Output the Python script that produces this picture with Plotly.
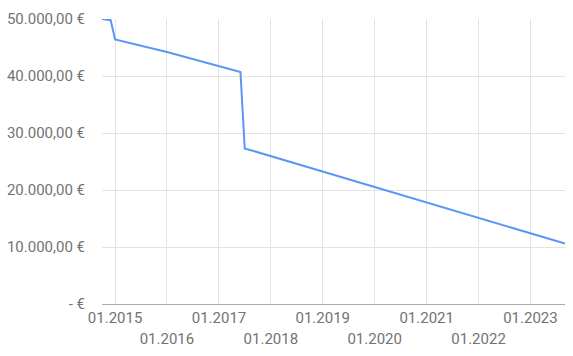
import plotly.graph_objects as go

dates = ["2014-10-01", "2014-12-01", "2015-01-01", "2016-01-01", "2017-06-01", "2017-07-01", "2023-09-01"]
values = [50000, 49800, 46400, 44200, 40700, 27300, 10600]

odd_ticks = ["2015-01-01", "2017-01-01", "2019-01-01", "2021-01-01", "2023-01-01"]
odd_labels = ["01.2015", "01.2017", "01.2019", "01.2021", "01.2023"]
even_ticks = ["2016-01-01", "2018-01-01", "2020-01-01", "2022-01-01"]
even_labels = ["01.2016", "01.2018", "01.2020", "01.2022"]
y_ticks = [0, 10000, 20000, 30000, 40000, 50000]
y_labels = ["- €", "10.000,00 €", "20.000,00 €", "30.000,00 €", "40.000,00 €", "50.000,00 €"]

fig = go.Figure(go.Scatter(x=dates, y=values, mode="lines",
                           line=dict(color="#5b95f7", width=2)))
fig.update_layout(
    width=573, height=356,
    margin=dict(l=102, r=8, t=19, b=52),
    paper_bgcolor="white", plot_bgcolor="white",
    font=dict(family="Roboto", size=15, color="#737373"),
    showlegend=False,
    xaxis=dict(range=[dates[0], dates[-1]], tickvals=odd_ticks, ticktext=odd_labels,
               showgrid=True, gridcolor="#e3e3e3", gridwidth=1,
               showline=True, linecolor="#aaaaaa", linewidth=1,
               ticks="", tickangle=0, zeroline=False, ticklabelstandoff=0),
    xaxis2=dict(range=[dates[0], dates[-1]], tickvals=even_ticks, ticktext=even_labels,
                overlaying="x", anchor="y", side="bottom", matches="x",
                showgrid=True, gridcolor="#e3e3e3", gridwidth=1,
                showline=False, ticks="", tickangle=0, zeroline=False,
                ticklabelstandoff=24),
    yaxis=dict(range=[0, 50000], tickvals=y_ticks, ticktext=y_labels,
               showgrid=True, gridcolor="#e3e3e3", gridwidth=1,
               zeroline=False, ticks="outside", ticklen=13, tickcolor="rgba(0,0,0,0)"),
)
fig.add_trace(go.Scatter(x=[dates[0]], y=[values[0]], xaxis="x2", mode="markers",
                         marker=dict(opacity=0), hoverinfo="skip"))
fig.write_html("out.html")
